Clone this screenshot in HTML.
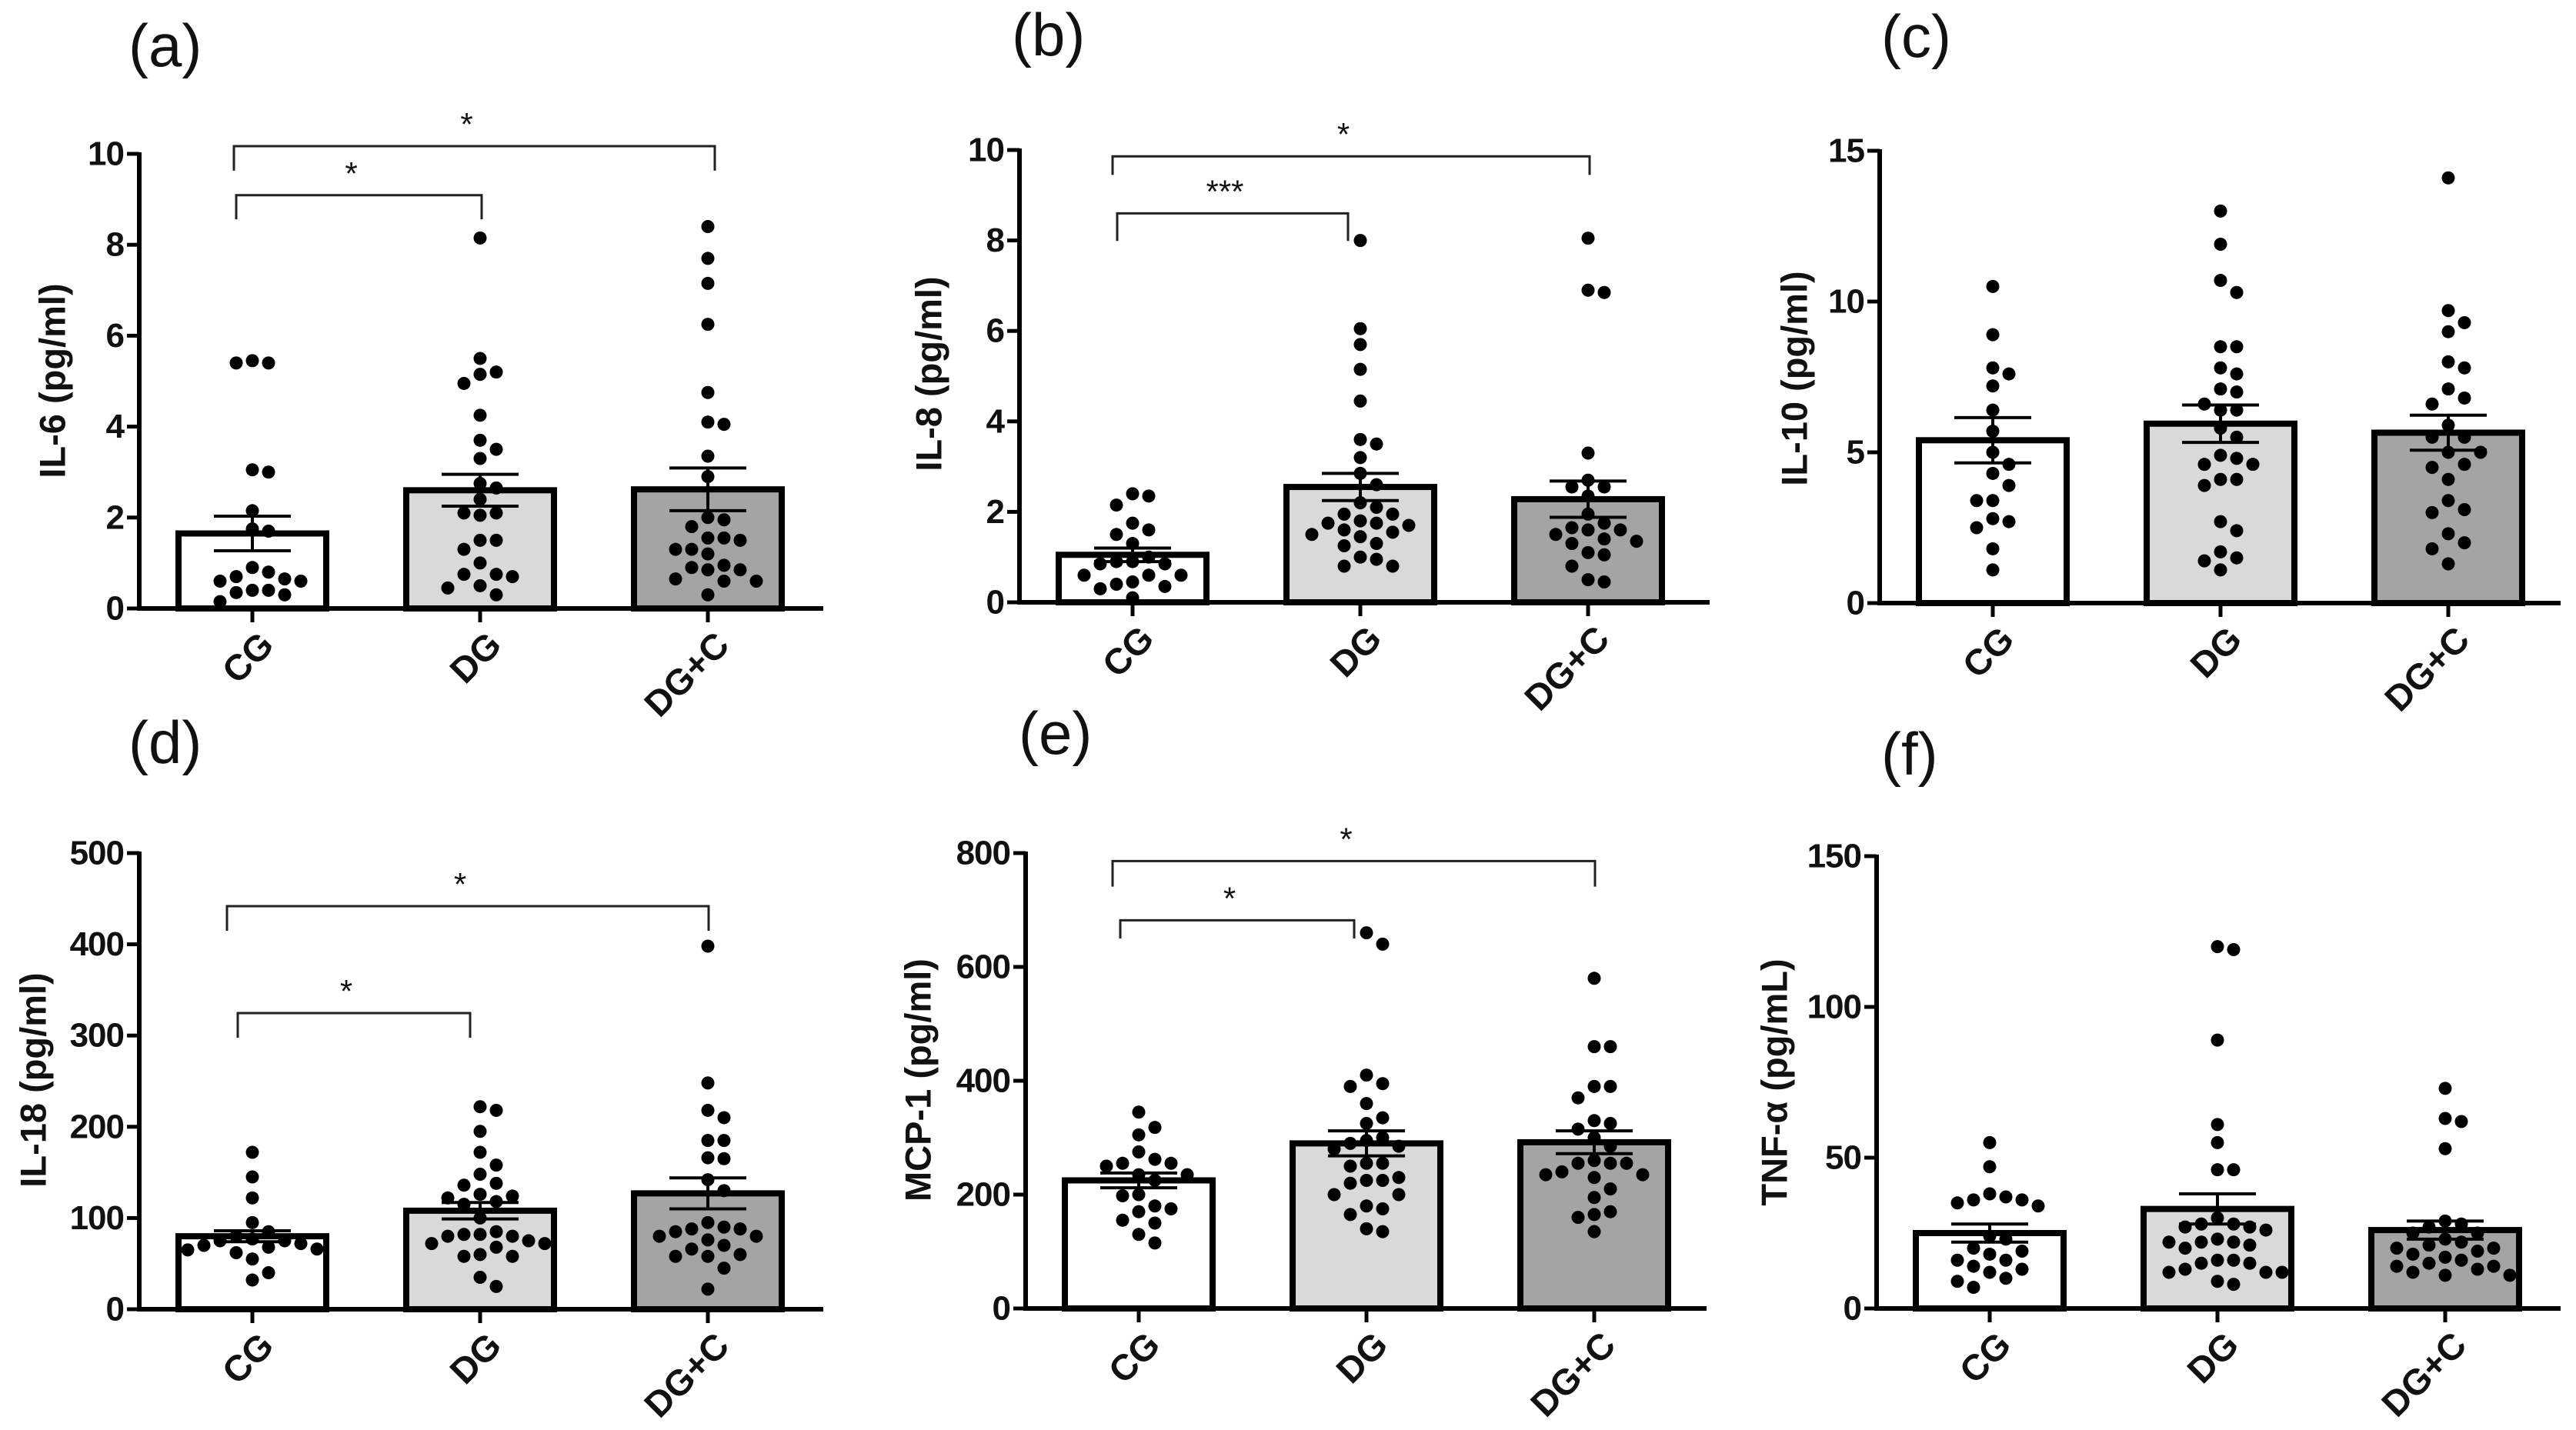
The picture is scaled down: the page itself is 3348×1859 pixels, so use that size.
<!DOCTYPE html>
<html><head><meta charset="utf-8"><style>
html,body{margin:0;padding:0;background:#fff}
svg{display:block;font-family:"Liberation Sans",Arial,sans-serif}
</style></head><body>
<svg id="chart" width="3348" height="1859" viewBox="0 0 3348 1859" xmlns="http://www.w3.org/2000/svg"></svg>
<script>
const groups = ["CG","DG","DG+C"];
const fills = ["#ffffff","#d9d9d9","#a4a4a4"];

const aMeans=[1.65,2.6,2.62], aSem=[0.38,0.35,0.47];
const aCG=[5.45,5.4,5.4,3.05,3.0,2.15,1.75,1.7,0.9,0.8,0.7,0.65,0.6,0.6,0.4,0.4,0.35,0.3,0.15];
const aDG=[8.15,5.5,5.2,5.15,4.95,4.25,3.7,3.5,3.3,2.75,2.65,2.4,2.1,2.05,2.1,1.5,1.5,1.3,1.0,0.75,0.75,0.7,0.5,0.45,0.3];
const aDGC=[8.4,7.7,7.15,6.25,4.75,4.1,4.05,3.35,2.9,2.0,1.95,1.8,1.55,1.55,1.5,1.3,1.3,1.2,0.95,0.9,0.85,0.85,0.65,0.6,0.6,0.3];

const bMeans=[1.05,2.55,2.28], bSem=[0.15,0.3,0.4];
const bCG=[2.4,2.35,2.15,1.75,1.6,1.5,1.3,1.0,0.9,0.9,0.85,0.85,0.6,0.6,0.6,0.45,0.4,0.35,0.3,0.1];
const bDG=[8.0,6.05,5.7,5.15,4.45,3.6,3.5,3.2,2.85,2.6,2.2,2.1,1.95,1.95,1.8,1.75,1.75,1.7,1.6,1.55,1.5,1.45,1.3,1.25,1.0,0.95,0.8,0.8];
const bDGC=[8.05,6.9,6.85,3.3,2.7,2.55,2.55,2.35,1.95,1.75,1.65,1.6,1.6,1.5,1.4,1.35,1.3,1.1,1.05,0.8,0.5,0.45];

const cMeans=[5.4,5.95,5.65], cSem=[0.75,0.62,0.58];
const cCG=[10.5,8.9,7.8,7.6,7.2,6.4,5.7,5.0,4.6,4.3,3.9,3.4,3.4,2.8,2.7,2.5,1.8,1.1];
const cDG=[13.0,11.9,10.7,10.3,8.5,8.5,7.8,7.6,7.1,7.0,6.6,6.4,6.4,5.8,5.5,4.9,4.8,4.6,4.6,4.1,4.1,3.9,2.7,2.4,1.7,1.5,1.4,1.1];
const cDGC=[14.1,9.7,9.3,9.0,8.0,7.8,7.1,6.8,6.6,5.9,5.5,5.5,5.0,5.0,4.6,4.5,4.1,3.4,3.1,3.0,2.3,2.0,1.8,1.3];

const dMeans=[80,108,127], dSem=[6,9,17];
const dCG=[172,145,122,95,85,80,77,75,75,72,70,68,66,65,62,55,40,32];
const dDG=[222,218,195,172,158,148,138,136,126,124,122,118,115,100,85,82,82,80,80,75,72,72,68,60,58,58,35,25];
const dDGC=[398,248,218,210,185,185,166,165,142,130,95,90,88,88,85,80,80,76,70,66,60,58,58,45,22];

const eMeans=[225,290,292], eSem=[13,22,20];
const eCG=[345,318,305,275,262,255,255,250,235,235,225,200,198,180,175,170,155,150,130,115];
const eDG=[660,640,410,395,390,360,335,325,300,295,290,285,280,255,255,250,230,225,225,220,200,200,180,175,165,140,135];
const eDGC=[580,460,460,390,390,370,330,325,315,300,285,260,255,255,255,240,235,235,230,210,195,170,165,160,135];

const fMeans=[25,33,26], fSem=[3,5,3];
const fCG=[55,47,38,37,36,36,35,34,24,23,20,19,18,16,16,14,13,12,10,9,7];
const fDG=[120,119,89,61,55,46,46,30,28,28,27,27,26,23,22,22,22,21,20,16,16,15,15,13,12,12,12,9,8];
const fDGC=[73,63,62,53,29,28,27,25,25,23,22,21,20,20,19,18,17,16,15,14,14,13,12,11,11];

const aTicks=[0,2,4,6,8,10], bTicks=[0,2,4,6,8,10], cTicks=[0,5,10,15];
const dTicks=[0,100,200,300,400,500], eTicks=[0,200,400,600,800], fTicks=[0,50,100,150];

const panels=[
 {key:"a",label:"(a)",lx:167,ly:86,title:"IL-6 (pg/ml)",tx:68,ty:495,ax:181,y0:791,yT:200,ticks:aTicks,means:aMeans,sem:aSem,pts:[aCG,aDG,aDGC],end:1070,
  br:[{x1:304,x2:929,y:10.17,d:9.63,s:"*"},{x1:307,x2:626,y:9.09,d:8.56,s:"*"}]},
 {key:"b",label:"(b)",lx:1315,ly:72,title:"IL-8 (pg/ml)",tx:1207,ty:486,ax:1325,y0:783,yT:195,ticks:bTicks,means:bMeans,sem:bSem,pts:[bCG,bDG,bDGC],end:2222,
  br:[{x1:1446,x2:2066,y:9.86,d:9.45,s:"*"},{x1:1452,x2:1752,y:8.6,d:7.99,s:"***"}]},
 {key:"c",label:"(c)",lx:2445,ly:74,title:"IL-10 (pg/ml)",tx:2332,ty:492,ax:2443,y0:784,yT:196,ticks:cTicks,means:cMeans,sem:cSem,pts:[cCG,cDG,cDGC],end:3328,br:[]},
 {key:"d",label:"(d)",lx:167,ly:992,title:"IL-18 (pg/ml)",tx:43,ty:1404,ax:181,y0:1702,yT:1109,ticks:dTicks,means:dMeans,sem:dSem,pts:[dCG,dDG,dDGC],end:1070,
  br:[{x1:295,x2:921,y:441.8,d:414.8,s:"*"},{x1:309,x2:611,y:324.6,d:297.6,s:"*"}]},
 {key:"e",label:"(e)",lx:1324,ly:980,title:"MCP-1 (pg/ml)",tx:1193,ty:1404,ax:1333,y0:1701,yT:1109,ticks:eTicks,means:eMeans,sem:eSem,pts:[eCG,eDG,eDGC],end:2218,
  br:[{x1:1446,x2:2073,y:786,d:741,s:"*"},{x1:1456,x2:1760,y:682,d:650,s:"*"}]},
 {key:"f",label:"(f)",lx:2445,ly:1007,title:"TNF-\u03b1 (pg/mL)",tx:2306,ty:1407,ax:2439,y0:1701,yT:1113,ticks:fTicks,means:fMeans,sem:fSem,pts:[fCG,fDG,fDGC],end:3328,br:[]}
];

const NS="http://www.w3.org/2000/svg";
const svg=document.getElementById('chart');
function mk(tag,attrs,parent){const e=document.createElementNS(NS,tag);for(const k in attrs)e.setAttribute(k,attrs[k]);(parent||svg).appendChild(e);return e;}

panels.forEach(p=>{
  const g=mk('g',{});
  
  
  const max=p.ticks[p.ticks.length-1];
  const Y=v=>p.y0-(v/max)*(p.y0-p.yT);
  const X=i=>p.ax+147+i*296;
  const pl=mk('text',{x:p.lx,y:p.ly,'font-size':78,fill:'#111'},g);pl.textContent=p.label;
  
  
  const yt=mk('text',{x:p.tx,y:p.ty,'font-size':47,'font-weight':'bold','text-anchor':'middle','dominant-baseline':'central',transform:`rotate(-90 ${p.tx} ${p.ty})`,fill:'#111'},g);
  yt.textContent=p.title;
  
  
  groups.forEach((gn,i)=>{
    const top=Y(p.means[i]);
    const r=mk('rect',{x:X(i)-96,y:top,width:192,height:p.y0-top,fill:fills[i],stroke:'#000','stroke-width':8},g);
    
    
  });
  groups.forEach((gn,i)=>{
    const vals=p.pts[i].slice().sort((a,b)=>b-a);
    const placed=[];const R=8.5;
    vals.forEach(v=>{
      const y=Y(v);let off=0;
      for(let k=0;k<20;k++){
        const cand=k===0?0:(k%2?1:-1)*Math.ceil(k/2)*(2*R+4);
        if(placed.every(q=>Math.hypot(q[0]-cand,q[1]-y)>=2*R+3)){off=cand;break;}
      }
      placed.push([off,y]);
      const c=mk('circle',{cx:X(i)+off,cy:y,r:R,fill:'#000'},g);
      
      
    });
  });
  groups.forEach((gn,i)=>{
    const hi=Y(p.means[i]+p.sem[i]),lo=Y(p.means[i]-p.sem[i]),x=X(i);
    const e=mk('path',{d:`M${x} ${hi}V${lo}M${x-50} ${hi}H${x+50}M${x-50} ${lo}H${x+50}`,stroke:'#000','stroke-width':4,fill:'none'},g);
    
    
  });
  const ya=mk('line',{x1:p.ax,y1:p.yT-2,x2:p.ax,y2:p.y0+3,stroke:'#000','stroke-width':6},g);
  
  
  const xa=mk('line',{x1:p.ax-3,y1:p.y0,x2:p.end,y2:p.y0,stroke:'#000','stroke-width':6},g);
  
  
  p.ticks.forEach(t=>{
    const y=Y(t);
    mk('line',{x1:p.ax-16,y1:y,x2:p.ax,y2:y,stroke:'#000','stroke-width':5},g);
    const tl=mk('text',{x:p.ax-20,y:y,'font-size':44,'font-weight':'bold','text-anchor':'end','dominant-baseline':'central',fill:'#111','letter-spacing':'-1'},g);
    tl.textContent=t;
    
    
  });
  groups.forEach((gn,i)=>{
    const x=X(i);
    mk('line',{x1:x,y1:p.y0,x2:x,y2:p.y0+18,stroke:'#000','stroke-width':5},g);
    const ax=x+6,ay=p.y0+26;
    const xl=mk('text',{x:ax,y:ay,'font-size':47,'font-weight':'bold','text-anchor':'end','dominant-baseline':'hanging',transform:`rotate(-45 ${ax} ${ay})`,fill:'#111'},g);
    xl.textContent=gn;
    
    
  });
  p.br.forEach(b=>{
    const yt=Y(b.y),yd=Y(b.d);
    const bp=mk('path',{d:`M${b.x1} ${yd}V${yt}H${b.x2}V${yd}`,stroke:'#222','stroke-width':3,fill:'none'},g);
    
    
    const st=mk('text',{x:(b.x1+b.x2)/2-10,y:yt-14,'font-size':42,'text-anchor':'middle',fill:'#111'},g);
    st.textContent=b.s;
    
    
  });
});
</script>
</body></html>
